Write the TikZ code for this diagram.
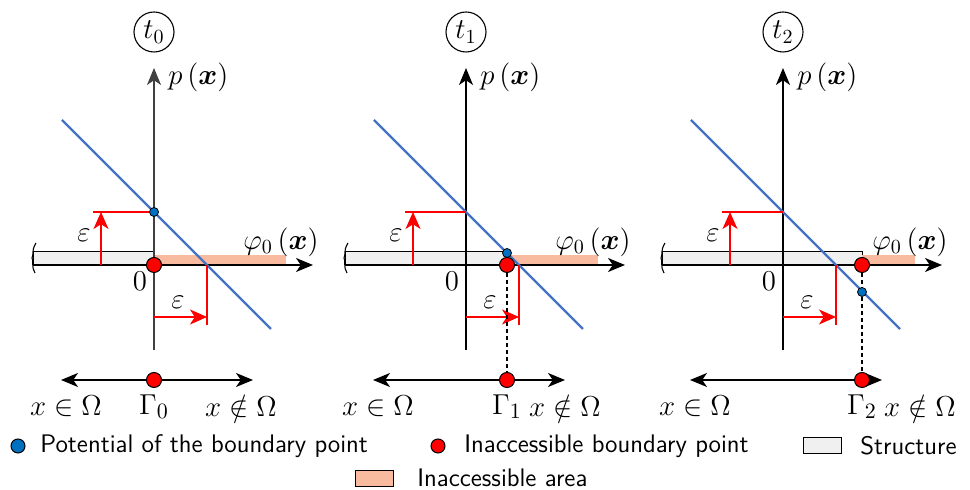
\documentclass[tikz,border=0pt]{standalone}
\usepackage{amsmath,bm}
\usetikzlibrary{arrows.meta}
\definecolor{potblue}{HTML}{4472C4}
\definecolor{dotblue}{HTML}{0070C0}
\definecolor{pinkarea}{RGB}{248,187,160}
\definecolor{structgray}{RGB}{240,240,240}
\tikzset{
  axisline/.style={line width=0.8pt, -{Stealth[length=8.5pt,width=7pt,inset=2.4pt]}},
  dblarrow/.style={line width=0.8pt, {Stealth[length=8.5pt,width=7pt,inset=2.4pt]}-{Stealth[length=8.5pt,width=7pt,inset=2.4pt]}},
  structbox/.style={draw=black, line width=0.5pt, fill=structgray},
  pinkbox/.style={fill=pinkarea},
  potline/.style={potblue, line width=1.2pt},
  redline/.style={red, line width=0.75pt},
  redarrow/.style={red, line width=0.75pt, -{Stealth[length=8.5pt,width=7.5pt,inset=2.4pt]}},
  reddot/.style={circle, fill=red, draw=black, line width=0.5pt, minimum size=7.5pt, inner sep=0pt},
  bluedot/.style={circle, fill=dotblue, draw=black, line width=0.4pt, minimum size=4.5pt, inner sep=0pt},
  legdot/.style={circle, draw=black, line width=0.5pt, minimum size=7pt, inner sep=0pt},
  timecircle/.style={circle, draw=black, line width=0.55pt, minimum size=20pt, inner sep=0pt, font=\fontsize{14}{16}\selectfont},
  mlabel/.style={font=\fontsize{14}{16}\selectfont, inner sep=0pt},
  blabel/.style={font=\fontsize{15.5}{18}\selectfont, inner sep=0pt},
  legtext/.style={font=\fontsize{12.7}{15}\sffamily\selectfont, anchor=west, inner sep=0pt},
  dashconn/.style={black, line width=0.55pt, dash pattern=on 2pt off 1.5pt},
}
% #1 origin x, #2 structure end, #3 index, #4 notin x, #5 axis colour
\newcommand{\drawpanel}[5]{%
\begin{scope}[shift={(#1,265)}]
  \coordinate (O#3) at (0,0);
  \coordinate (vb#3) at (0,85);
  \coordinate (vt#3) at (0,-197);
  \coordinate (hl#3) at (-121,0);
  \coordinate (hr#3) at (159,0);
  \coordinate (E#3) at (#2,0);
  \coordinate (Bl#3) at (-93,115);
  \coordinate (Br#3) at (99,115);
  \draw[structbox] (hl#3) rectangle (#2,-13);
  \fill[pinkbox] (#2,-10) rectangle (132,0);
  \draw[black, line width=0.55pt] (-118,-22) .. controls (-123,-14) and (-120,-10) .. (-122,-7)
        .. controls (-120,-4) and (-123,2) .. (-119,8);
  \draw[axisline, draw=#5] (vb#3) -- (vt#3);
  \draw[axisline] (hl#3) -- (hr#3);
  \coordinate (La#3) at (-92,-145);
  \coordinate (Lb#3) at (117,64);
  \draw[potline] (La#3) -- (Lb#3);
  \coordinate (h1#3) at (-61,-53);
  \coordinate (h2#3) at (0,-53);
  \coordinate (u1#3) at (-53,0);
  \coordinate (u2#3) at (-53,-53);
  \coordinate (r1#3) at (0,52);
  \coordinate (r2#3) at (53,52);
  \coordinate (v1#3) at (53,0);
  \coordinate (v2#3) at (53,60);
  \draw[redline] (h1#3) -- (h2#3);
  \draw[redarrow] (u1#3) -- (u2#3);
  \draw[redarrow] (r1#3) -- (r2#3);
  \draw[redline] (v1#3) -- (v2#3);
  \node[mlabel] (eu#3) at (-70,-30) {$\varepsilon$};
  \node[mlabel] (er#3) at (24,37) {$\varepsilon$};
  \node[mlabel] (zero#3) at (-14,16) {$0$};
  \node[mlabel, anchor=west] (p#3) at (14,-188) {$p\left(\bm{x}\right)$};
  \node[mlabel] (phi#3) at (127,-23) {$\varphi_0\left(\bm{x}\right)$};
  \node[timecircle] (t#3) at (0,-233) {$t_{#3}$};
  \draw[dblarrow] (Bl#3) -- (Br#3);
  \node[blabel] (in#3) at (-88,141) {$x \in \Omega$};
  \node[blabel] (G#3) at (#2,142) {$\Gamma_{#3}$};
  \node[blabel] (nin#3) at (#4,141) {$x \notin \Omega$};
\end{scope}}
\begin{document}
\begin{tikzpicture}[x={(0.5pt,0)}, y={(0,-0.5pt)}]
\useasboundingbox (0,0) rectangle (970,490);
\drawpanel{154}{0}{0}{87}{black!75}
\node[bluedot] (bd0) at (154,212) {};
\node[reddot] (rd0) at (154,265) {};
\node[reddot] (rb0) at (154,380) {};
\drawpanel{466}{41}{1}{99}{black}
\node[reddot] (rd1) at (507,265) {};
\node[bluedot] (bd1) at (507,253) {};
\node[reddot] (rb1) at (507,380) {};
\draw[dashconn] (rd1) -- (rb1);
\drawpanel{783}{79}{2}{137}{black}
\node[reddot] (rd2) at (862,265) {};
\node[bluedot] (bd2) at (862,292) {};
\node[reddot] (rb2) at (862,380) {};
\draw[dashconn] (rd2) -- (bd2) -- (rb2);
% legend
\node[legdot, fill=dotblue] (lg1) at (18,446) {};
\node[legtext] (lt1) at (40,446) {Potential of the boundary point};
\node[legdot, fill=red] (lg2) at (438,446) {};
\node[legtext] (lt2) at (464,446) {Inaccessible boundary point};
\node[draw=black, line width=0.5pt, fill=structgray, minimum width=19pt, minimum height=8pt, inner sep=0pt] (lg3) at (822,446) {};
\node[legtext] (lt3) at (860,446) {Structure};
\node[draw=black, line width=0.5pt, fill=pinkarea, minimum width=19pt, minimum height=8pt, inner sep=0pt] (lg4) at (374,479) {};
\node[legtext] (lt4) at (417,478) {Inaccessible area};
\end{tikzpicture}
\end{document}
